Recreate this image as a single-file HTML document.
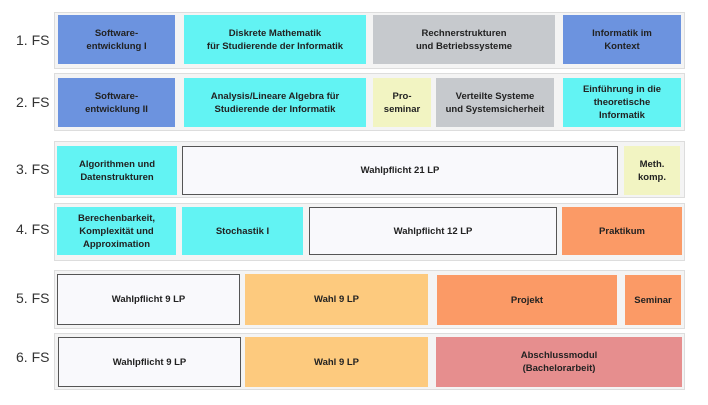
<!DOCTYPE html>
<html><head><meta charset="utf-8"><style>
body{margin:0;width:708px;height:405px;background:#fff;position:relative;overflow:hidden;font-family:"Liberation Sans",sans-serif}
.f{position:absolute;left:54px;width:631px;border:1px solid #ddd;background:#f4f4f4;box-sizing:border-box}
.b{position:absolute;display:flex;align-items:center;justify-content:center;text-align:center;font-weight:bold;font-size:9.5px;line-height:13px;color:#222;box-sizing:border-box}
.l{position:absolute;left:16px;font-size:14px;color:#333}
.bl{background:#6c93df}.cy{background:#62f3f3}.gr{background:#c6c9cd}.ye{background:#f2f4c2}.or{background:#fb9a66}.lo{background:#fdca7e}.pk{background:#e68e8e}.wh{background:#f9f9fc;border:1.5px solid #555}
</style></head><body>
<div class="f" style="top:12px;height:57px"></div>
<div class="f" style="top:73px;height:58px"></div>
<div class="f" style="top:141px;height:57px"></div>
<div class="f" style="top:203px;height:58px"></div>
<div class="f" style="top:270px;height:59px"></div>
<div class="f" style="top:333px;height:57px"></div>

<div class="l" style="top:32px">1. FS</div>
<div class="l" style="top:94px">2. FS</div>
<div class="l" style="top:161px">3. FS</div>
<div class="l" style="top:221px">4. FS</div>
<div class="l" style="top:290px">5. FS</div>
<div class="l" style="top:349px">6. FS</div>

<div class="b bl" style="left:58px;top:15px;width:117px;height:49px">Software-<br>entwicklung I</div>
<div class="b cy" style="left:184px;top:15px;width:182px;height:49px">Diskrete Mathematik<br>für Studierende der Informatik</div>
<div class="b gr" style="left:373px;top:15px;width:182px;height:49px">Rechnerstrukturen<br>und Betriebssysteme</div>
<div class="b bl" style="left:563px;top:15px;width:118px;height:49px">Informatik im<br>Kontext</div>

<div class="b bl" style="left:58px;top:78px;width:117px;height:49px">Software-<br>entwicklung II</div>
<div class="b cy" style="left:184px;top:78px;width:182px;height:49px">Analysis/Lineare Algebra für<br>Studierende der Informatik</div>
<div class="b ye" style="left:373px;top:78px;width:58px;height:49px">Pro-<br>seminar</div>
<div class="b gr" style="left:436px;top:78px;width:118px;height:49px">Verteilte Systeme<br>und Systemsicherheit</div>
<div class="b cy" style="left:563px;top:78px;width:118px;height:49px">Einführung in die<br>theoretische<br>Informatik</div>

<div class="b cy" style="left:57px;top:146px;width:120px;height:49px">Algorithmen und<br>Datenstrukturen</div>
<div class="b wh" style="left:182px;top:146px;width:436px;height:49px">Wahlpflicht 21 LP</div>
<div class="b ye" style="left:624px;top:146px;width:56px;height:49px">Meth.<br>komp.</div>

<div class="b cy" style="left:57px;top:207px;width:119px;height:48px">Berechenbarkeit,<br>Komplexität und<br>Approximation</div>
<div class="b cy" style="left:182px;top:207px;width:121px;height:48px">Stochastik I</div>
<div class="b wh" style="left:309px;top:207px;width:248px;height:48px">Wahlpflicht 12 LP</div>
<div class="b or" style="left:562px;top:207px;width:120px;height:48px">Praktikum</div>

<div class="b wh" style="left:57px;top:274px;width:183px;height:51px">Wahlpflicht 9 LP</div>
<div class="b lo" style="left:245px;top:274px;width:183px;height:51px">Wahl 9 LP</div>
<div class="b or" style="left:437px;top:275px;width:180px;height:50px">Projekt</div>
<div class="b or" style="left:625px;top:275px;width:56px;height:50px">Seminar</div>

<div class="b wh" style="left:58px;top:337px;width:183px;height:50px">Wahlpflicht 9 LP</div>
<div class="b lo" style="left:245px;top:337px;width:183px;height:50px">Wahl 9 LP</div>
<div class="b pk" style="left:436px;top:337px;width:246px;height:50px">Abschlussmodul<br>(Bachelorarbeit)</div>
</body></html>
